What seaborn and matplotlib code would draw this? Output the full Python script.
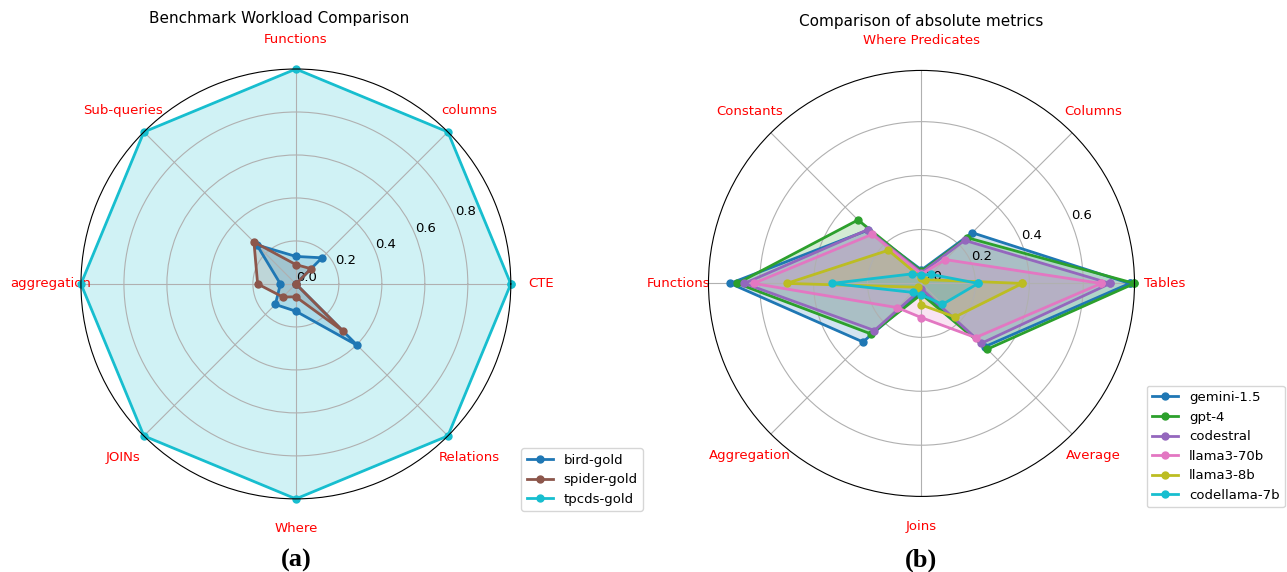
import numpy as np
import pandas as pd
import matplotlib
matplotlib.use("Agg")
import matplotlib.pyplot as plt
from matplotlib.ticker import FixedLocator
import seaborn as sns

# ---- (a) benchmark workload features (normalised) ----
workload_axes = ["CTE", "columns", "Functions", "Sub-queries",
                 "aggregation", "JOINs", "Where", "Relations"]
bird_gold = [0.0, 0.172, 0.128, 0.257, 0.072, 0.135, 0.127, 0.405]
spider_gold = [0.0, 0.10, 0.09, 0.276, 0.178, 0.086, 0.06, 0.312]
tpcds_gold = [1.0, 1.0, 1.0, 1.0, 1.0, 1.0, 1.0, 1.0]
workload_names = ["bird-gold", "spider-gold", "tpcds-gold"]

# ---- (b) absolute metrics per model ----
metric_axes = ["Tables", "Columns", "Where Predicates", "Constants",
               "Functions", "Aggregation", "Joins", "Average"]
gemini_15 = [0.772, 0.266, 0.05, 0.28, 0.71, 0.307, 0.03, 0.332]
gpt_4 = [0.79, 0.24, 0.045, 0.333, 0.683, 0.265, 0.04, 0.345]
codestral = [0.70, 0.226, 0.04, 0.282, 0.657, 0.247, 0.02, 0.314]
llama3_70b = [0.667, 0.125, 0.035, 0.258, 0.623, 0.127, 0.127, 0.284]
llama3_8b = [0.374, 0.02, 0.02, 0.174, 0.50, 0.02, 0.08, 0.176]
codellama_7b = [0.21, 0.048, 0.03, 0.05, 0.333, 0.047, 0.042, 0.11]
model_names = ["gemini-1.5", "gpt-4", "codestral",
               "llama3-70b", "llama3-8b", "codellama-7b"]

workload_colors = ["#1f77b4", "#8c564b", "#17becf"]
model_colors = ["#1f77b4", "#2ca02c", "#9467bd", "#e377c2", "#bcbd22", "#17becf"]


def radar(ax, categories, series, names, colors):
    n = len(categories)
    theta = np.linspace(0, 2 * np.pi, n, endpoint=False)
    closed = np.concatenate([theta, theta[:1] + 2 * np.pi])
    top = 0.0
    for vals, name, col in zip(series, names, colors):
        r = np.concatenate([vals, vals[:1]])
        top = max(top, float(np.max(r)))
        df = pd.DataFrame({"theta": closed, "r": r})
        sns.lineplot(data=df, x="theta", y="r", ax=ax, sort=False,
                     estimator=None, clip_on=False,
                     color=col, linewidth=2, marker="o", markersize=5,
                     markeredgecolor=col, markeredgewidth=1, label=name)
        ax.fill(closed, r, color=col, alpha=0.2)
    ax.set_xticks(theta)
    ax.set_xticklabels(categories, color="red", fontsize=9.5)
    ax.tick_params(axis="x", pad=11)
    ax.tick_params(axis="y", labelsize=9.5)
    ax.set_xlabel("")
    ax.set_ylabel("")
    ax.set_ylim(0, top)
    ax.yaxis.set_major_locator(FixedLocator(np.arange(0, top - 1e-6, 0.2)))
    ax.grid(True)


fig = plt.figure(figsize=(12.87, 5.72), dpi=100)
ax1 = fig.add_axes([0.0629, 0.1276, 0.334, 0.752], projection="polar")
ax2 = fig.add_axes([0.5505, 0.132, 0.331, 0.745], projection="polar")

radar(ax1, workload_axes, [bird_gold, spider_gold, tpcds_gold],
      workload_names, workload_colors)
radar(ax2, metric_axes,
      [gemini_15, gpt_4, codestral, llama3_70b, llama3_8b, codellama_7b],
      model_names, model_colors)

ax1.set_title("Benchmark Workload Comparison", fontsize=11, x=0.46, y=1.088)
ax2.set_title("Comparison of absolute metrics", fontsize=11, y=1.085)

ax1.legend(loc="lower left", bbox_to_anchor=(0.405, 0.1066),
           bbox_transform=fig.transFigure, fontsize=9.5, borderaxespad=0)
ax2.legend(loc="lower left", bbox_to_anchor=(0.891, 0.113),
           bbox_transform=fig.transFigure, fontsize=9.5, borderaxespad=0)

fig.text(296 / 1287, 1 - 560 / 572, "(a)", ha="center", va="center",
         fontsize=19, fontweight="bold", family="Liberation Serif")
fig.text(921 / 1287, 1 - 560 / 572, "(b)", ha="center", va="center",
         fontsize=19, fontweight="bold", family="Liberation Serif")

fig.savefig("out.png", dpi=100)
